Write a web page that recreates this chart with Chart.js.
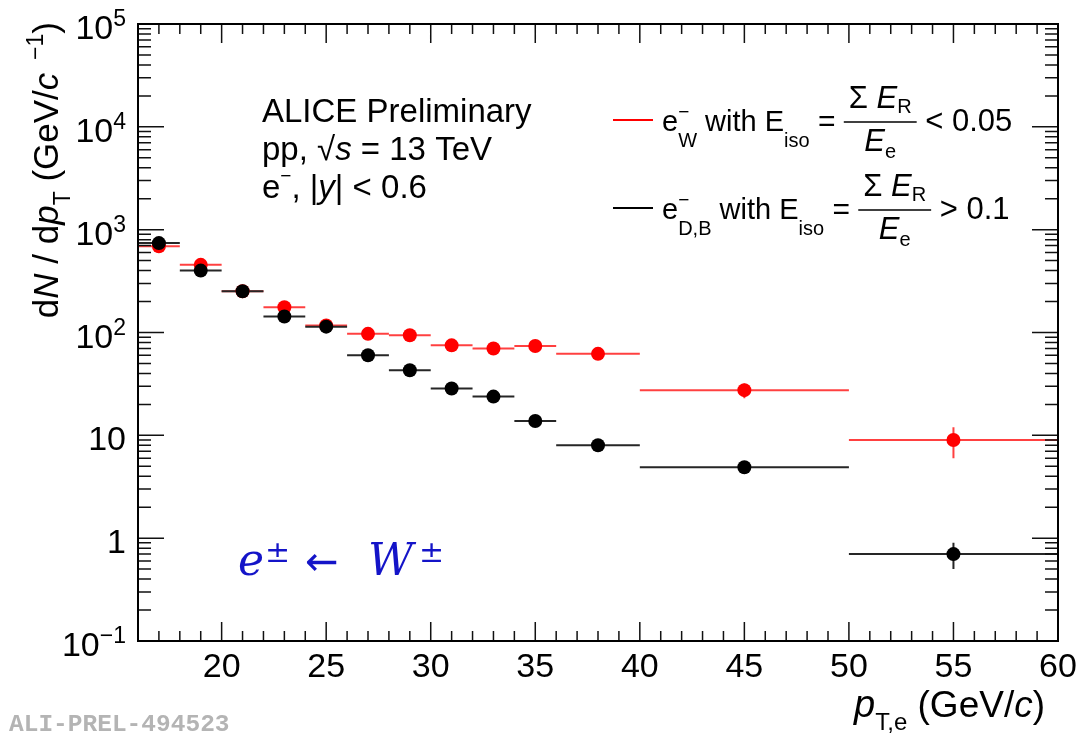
<!DOCTYPE html>
<html>
<head>
<meta charset="utf-8">
<title>W electron spectrum</title>
<script src="https://cdn.jsdelivr.net/npm/chart.js@4.4.1/dist/chart.umd.min.js"></script>
<style>
  html, body { margin: 0; padding: 0; background: #fff; }
  canvas { display: block; }
</style>
</head>
<body>
<canvas id="spectrum" width="1079" height="735"></canvas>
<script>
// pT bins (GeV/c)
const ptCenter = [17, 19, 21, 23, 25, 27, 29, 31, 33, 35, 38, 45, 55];
const ptLow    = [16, 18, 20, 22, 24, 26, 28, 30, 32, 34, 36, 40, 50];
const ptHigh   = [18, 20, 22, 24, 26, 28, 30, 32, 34, 36, 40, 50, 60];

// isolated electrons (W candidates), dN/dpT
const wYield = [690, 455, 252, 176, 117, 97, 94, 75, 70, 74, 62, 27.5, 9.0];
const wErr   = [15, 10, 6, 5, 4, 4, 4, 3, 3, 3, 2.5, 4.5, 3.0];

// non-isolated electrons (charm/beauty), dN/dpT
const hfYield = [740, 400, 252, 143, 114, 60, 43, 28.5, 23.8, 13.8, 8.0, 4.9, 0.70];
const hfErr   = [15, 10, 6, 4, 3, 2, 1.5, 1, 1, 0.7, 0.5, 0.4, 0.2];

// axis ticks
const xMajorTicks = [20, 25, 30, 35, 40, 45, 50, 55, 60];
const yDecades = [-1, 0, 1, 2, 3, 4, 5];

const SANS = '"Liberation Sans", Arial, Helvetica, sans-serif';
const SERIF = '"DejaVu Serif", serif';
const RED = '#ff0000';

function setFont(ctx, p) {
  ctx.font = (p.italic ? 'italic ' : '') + (p.bold ? 'bold ' : '') + p.size + 'px ' + (p.family || SANS);
}

// draws a run of text pieces left to right; stay:true keeps the pen, at: absolute x
function drawRun(ctx, x, y, parts, dryRun) {
  let cx = x, maxX = x;
  for (const p of parts) {
    setFont(ctx, p);
    if (p.at !== undefined) cx = p.at;
    if (!dryRun) ctx.fillText(p.text, cx, y + (p.dy || 0));
    const w = ctx.measureText(p.text).width;
    maxX = Math.max(maxX, cx + w);
    if (!p.stay) cx += w;
  }
  return Math.max(cx, maxX) - x;
}

function runWidth(ctx, parts) {
  return drawRun(ctx, 0, 0, parts, true);
}

// fraction: numerator over denominator with a bar, starting at x
function drawFrac(ctx, x, base, num, den) {
  const wn = runWidth(ctx, num), wd = runWidth(ctx, den);
  const w = Math.max(wn, wd) + 10;
  drawRun(ctx, x + (w - wn) / 2, base - 23, num);
  drawRun(ctx, x + (w - wd) / 2, base + 20, den);
  ctx.save();
  ctx.lineWidth = 1.5;
  ctx.beginPath();
  ctx.moveTo(x, base - 9);
  ctx.lineTo(x + w, base - 9);
  ctx.stroke();
  ctx.restore();
  return w;
}

function drawErrors(ctx, xs, ys, values, errs, color) {
  ctx.strokeStyle = color;
  ctx.lineWidth = 2;
  values.forEach((v, i) => {
    const py = ys.getPixelForValue(v);
    const px = xs.getPixelForValue(ptCenter[i]);
    ctx.beginPath();
    ctx.moveTo(xs.getPixelForValue(ptLow[i]), py);
    ctx.lineTo(xs.getPixelForValue(ptHigh[i]), py);
    ctx.moveTo(px, ys.getPixelForValue(v + errs[i]));
    ctx.lineTo(px, ys.getPixelForValue(Math.max(v - errs[i], 1e-3)));
    ctx.stroke();
  });
}

const errorBars = {
  id: 'errorBars',
  beforeDatasetsDraw(chart) {
    const { ctx, chartArea: a, scales: { x, y } } = chart;
    ctx.save();
    ctx.beginPath();
    ctx.rect(a.left, a.top, a.right - a.left, a.bottom - a.top);
    ctx.clip();
    drawErrors(ctx, x, y, wYield, wErr, 'rgba(255,0,0,0.75)');
    drawErrors(ctx, x, y, hfYield, hfErr, '#262626');
    ctx.restore();
  }
};

// ROOT-like frame with inward ticks on all four sides
const frameAxes = {
  id: 'frameAxes',
  afterDatasetsDraw(chart) {
    const { ctx, chartArea: a, scales: { x, y } } = chart;
    ctx.save();
    ctx.strokeStyle = '#111';
    ctx.lineWidth = 1.5;
    ctx.beginPath();
    for (let v = Math.ceil(x.min); v <= x.max; v++) {
      const px = x.getPixelForValue(v);
      const len = v % 5 === 0 ? 19 : 10;
      ctx.moveTo(px, a.bottom); ctx.lineTo(px, a.bottom - len);
      ctx.moveTo(px, a.top); ctx.lineTo(px, a.top + len);
    }
    yDecades.forEach(d => {
      const py = y.getPixelForValue(Math.pow(10, d));
      ctx.moveTo(a.left, py); ctx.lineTo(a.left + 26, py);
      ctx.moveTo(a.right, py); ctx.lineTo(a.right - 26, py);
      if (d < 5) {
        for (let k = 2; k <= 9; k++) {
          const pm = y.getPixelForValue(k * Math.pow(10, d));
          ctx.moveTo(a.left, pm); ctx.lineTo(a.left + 13, pm);
          ctx.moveTo(a.right, pm); ctx.lineTo(a.right - 13, pm);
        }
      }
    });
    ctx.stroke();

    ctx.lineWidth = 2;
    ctx.strokeStyle = '#000';
    ctx.strokeRect(a.left, a.top, a.right - a.left, a.bottom - a.top);

    // tick labels
    ctx.fillStyle = '#000';
    ctx.textBaseline = 'alphabetic';
    xMajorTicks.forEach(v => {
      const parts = [{ text: String(v), size: 34 }];
      const w = runWidth(ctx, parts);
      drawRun(ctx, x.getPixelForValue(v) - w / 2, a.bottom + 36, parts);
    });
    yDecades.forEach(d => {
      const py = y.getPixelForValue(Math.pow(10, d));
      let parts;
      if (d === 0) parts = [{ text: '1', size: 34 }];
      else if (d === 1) parts = [{ text: '10', size: 34 }];
      else parts = [{ text: '10', size: 34 }, { text: d < 0 ? '\u22121' : String(d), size: 23, dy: -13 }];
      const w = runWidth(ctx, parts);
      drawRun(ctx, a.left - 12 - w, py + 15, parts);
    });

    // axis titles
    const xTitle = [
      { text: 'p', size: 38, italic: true },
      { text: 'T,e', size: 24, dy: 13 },
      { text: ' (GeV/', size: 37 },
      { text: 'c', size: 37, italic: true },
      { text: ')', size: 37 }
    ];
    const wx = runWidth(ctx, xTitle);
    drawRun(ctx, 1045 - wx, 717, xTitle);

    const yTitle = [
      { text: 'd', size: 35 },
      { text: 'N', size: 35, italic: true },
      { text: ' / d', size: 35 },
      { text: 'p', size: 35, italic: true },
      { text: 'T', size: 23, dy: 12 },
      { text: ' (GeV/', size: 35 },
      { text: 'c', size: 35, italic: true },
      { text: '  \u22121', size: 23, dy: -15 },
      { text: ')', size: 35 }
    ];
    const wy = runWidth(ctx, yTitle);
    ctx.translate(58, 22 + wy);
    ctx.rotate(-Math.PI / 2);
    drawRun(ctx, 0, 0, yTitle);
    ctx.restore();
  }
};

const annotations = {
  id: 'annotations',
  afterDraw(chart) {
    const { ctx } = chart;
    ctx.save();
    ctx.fillStyle = '#000';

    // system label
    drawRun(ctx, 262, 122, [{ text: 'ALICE Preliminary', size: 33 }]);
    drawRun(ctx, 262, 160, [
      { text: 'pp, \u221A', size: 33 },
      { text: 's', size: 33, italic: true },
      { text: ' = 13 TeV', size: 33 }
    ]);
    drawRun(ctx, 262, 198, [
      { text: 'e', size: 33 },
      { text: '\u2212', size: 19, dy: -16 },
      { text: ', |', size: 33 },
      { text: 'y', size: 33, italic: true },
      { text: '| < 0.6', size: 33 }
    ]);

    // legend
    const rows = [
      { color: RED, base: 131, sub: 'W', cut: ' < 0.05' },
      { color: '#000', base: 219, sub: 'D,B', cut: ' > 0.1' }
    ];
    rows.forEach(r => {
      ctx.strokeStyle = r.color;
      ctx.lineWidth = 2;
      ctx.beginPath();
      ctx.moveTo(613, r.base - 11);
      ctx.lineTo(653, r.base - 11);
      ctx.stroke();
      ctx.strokeStyle = '#000';
      let x = 662;
      x += drawRun(ctx, x, r.base, [
        { text: 'e', size: 29 },
        { text: '\u2212', size: 19, stay: true, dy: -13 },
        { text: r.sub, size: 20, dy: 16 },
        { text: ' with E', size: 29 },
        { text: 'iso', size: 20, dy: 16 },
        { text: ' = ', size: 30 }
      ]);
      x += drawFrac(ctx, x, r.base,
        [{ text: '\u03A3 ', size: 31 }, { text: 'E', size: 31, italic: true }, { text: 'R', size: 20, dy: 5 }],
        [{ text: 'E', size: 31, italic: true }, { text: 'e', size: 20, dy: 7 }]);
      drawRun(ctx, x, r.base, [{ text: r.cut, size: 31 }]);
    });

    // decay channel
    ctx.fillStyle = '#1414c8';
    drawRun(ctx, 238, 575, [
      { text: 'e', size: 44, italic: true, family: SERIF },
      { text: '\u00B1', size: 30, dy: -13, family: SERIF, at: 265 },
      { text: '\u2190', size: 40, family: '"DejaVu Sans", sans-serif', at: 305 },
      { text: 'W', size: 44, italic: true, family: SERIF, at: 368 },
      { text: '\u00B1', size: 30, dy: -13, family: SERIF, at: 419 }
    ]);

    // figure id
    ctx.fillStyle = '#b4b4b4';
    drawRun(ctx, 9, 731, [{ text: 'ALI-PREL-494523', size: 24.5, bold: true, family: '"Liberation Mono", "DejaVu Sans Mono", monospace' }]);
    ctx.restore();
  }
};

const ctx = document.getElementById('spectrum').getContext('2d');
new Chart(ctx, {
  type: 'scatter',
  data: {
    datasets: [
      {
        label: 'e D,B',
        data: ptCenter.map((x, i) => ({ x, y: hfYield[i] })),
        backgroundColor: '#000',
        borderWidth: 0,
        pointRadius: 7,
        order: 0
      },
      {
        label: 'e W',
        data: ptCenter.map((x, i) => ({ x, y: wYield[i] })),
        backgroundColor: RED,
        borderWidth: 0,
        pointRadius: 7,
        order: 1
      }
    ]
  },
  options: {
    responsive: false,
    animation: false,
    events: [],
    layout: { padding: { left: 138, top: 24, right: 21, bottom: 94 } },
    plugins: { legend: { display: false }, tooltip: { enabled: false } },
    scales: {
      x: { type: 'linear', min: 16, max: 60, display: false },
      y: { type: 'logarithmic', min: 0.1, max: 1e5, display: false }
    }
  },
  plugins: [errorBars, frameAxes, annotations]
});
</script>
</body>
</html>
